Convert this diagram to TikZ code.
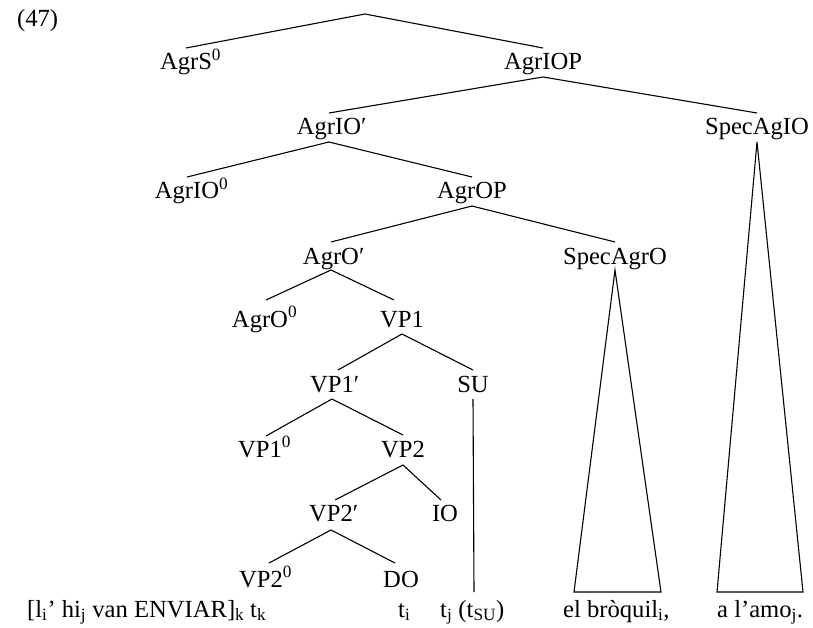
\documentclass[tikz,border=0pt]{standalone}
\usepackage{fontspec}
\setmainfont{Liberation Serif}
\newcommand\supzero{\rlap{\textsuperscript{0}}}
\newcommand\prm{\rlap{′}}
\begin{document}
\begin{tikzpicture}[x=1pt,y=-1pt,
  lab/.style={anchor=base,inner sep=0pt,font=\fontsize{24.6}{28}\selectfont},
  txt/.style={anchor=base west,inner sep=0pt,font=\fontsize{24.6}{28}\selectfont},
  br/.style={line width=1.1pt,line join=miter}]
\useasboundingbox (0,0) rectangle (813,628);
\node[txt] (num) at (17,27) {(47)};
\coordinate (root) at (365,14);
\node[lab] (agrS) at (186,70) {AgrS\supzero};
\node[lab] (agrIOP) at (543,70) {AgrIOP};
\node[lab] (agrIObar) at (329,135) {AgrIO\prm};
\node[lab] (specIO) at (757,135) {SpecAgIO};
\node[lab] (agrIO0) at (187,199) {AgrIO\supzero};
\node[lab] (agrOP) at (472,199) {AgrOP};
\node[lab] (agrObar) at (331,264) {AgrO\prm};
\node[lab] (specO) at (615,264) {SpecAgrO};
\node[lab] (agrO0) at (260,327) {AgrO\supzero};
\node[lab] (vp1) at (402,327) {VP1};
\node[lab] (vp1bar) at (332,392) {VP1\prm};
\node[lab] (su) at (473,392) {SU};
\node[lab] (vp10) at (260,457) {VP1\supzero};
\node[lab] (vp2) at (403,457) {VP2};
\node[lab] (vp2bar) at (331,521) {VP2\prm};
\node[lab] (io) at (445,521) {IO};
\node[lab] (vp20) at (261,587) {VP2\supzero};
\node[lab] (do) at (401,587) {DO};
% bottom line
\node[txt] (w1) at (27,617) {[l\textsubscript{i}’ hi\textsubscript{j} van ENVIAR]\textsubscript{k}};
\node[txt] (w2) at (250,617) {t\textsubscript{k}};
\node[txt] (w3) at (398,617) {t\textsubscript{i}};
\node[txt] (w4) at (440,617) {t\textsubscript{j} (t\textsubscript{SU})};
\node[txt] (w5) at (563,617) {el bròquil\textsubscript{i},};
\node[txt] (w6) at (717,617) {a l’amo\textsubscript{j}.};
% branches
\draw[br] ([yshift=22pt]agrS.base) -- (root) -- ([yshift=22pt]agrIOP.base);
\draw[br] ([yshift=22pt]agrIObar.base) -- ([yshift=-7pt]agrIOP.base) -- ([yshift=22pt]specIO.base);
\draw[br] ([yshift=22pt]agrIO0.base) -- ([yshift=-7pt]agrIObar.base) -- ([yshift=22pt]agrOP.base);
\draw[br] ([yshift=22pt]agrObar.base) -- ([yshift=-7pt]agrOP.base) -- ([yshift=22pt]specO.base);
\draw[br] ([xshift=6pt,yshift=27pt]agrO0.base) -- ([yshift=-6pt]agrObar.base) -- ([xshift=-8pt,yshift=27pt]vp1.base);
\draw[br] ([xshift=6pt,yshift=22pt]vp1bar.base) -- ([yshift=-7pt]vp1.base) -- ([yshift=22pt]su.base);
\draw[br] ([xshift=6pt,yshift=21pt]vp10.base) -- ([yshift=-7pt]vp1bar.base) -- ([yshift=22pt]vp2.base);
\draw[br] ([xshift=4pt,yshift=21pt]vp2bar.base) -- ([yshift=-8pt]vp2.base) -- ([xshift=-4pt,yshift=21pt]io.base);
\draw[br] ([xshift=8pt,yshift=24pt]vp20.base) -- ([yshift=-9pt]vp2bar.base) -- ([xshift=-6pt,yshift=24pt]do.base);
% SU trace line
\coordinate (suEnd) at (474,592);
\draw[br] ([yshift=-7pt]su.base) -- (suEnd);
% triangles
\coordinate (tOl) at (574,592);
\coordinate (tOr) at (661,592);
\draw[br] ([yshift=-6pt]specO.base) -- (tOl) -- (tOr) -- cycle;
\coordinate (tIl) at (717,592);
\coordinate (tIr) at (803,592);
\draw[br] ([yshift=-7pt]specIO.base) -- (tIl) -- (tIr) -- cycle;
\end{tikzpicture}
\end{document}
